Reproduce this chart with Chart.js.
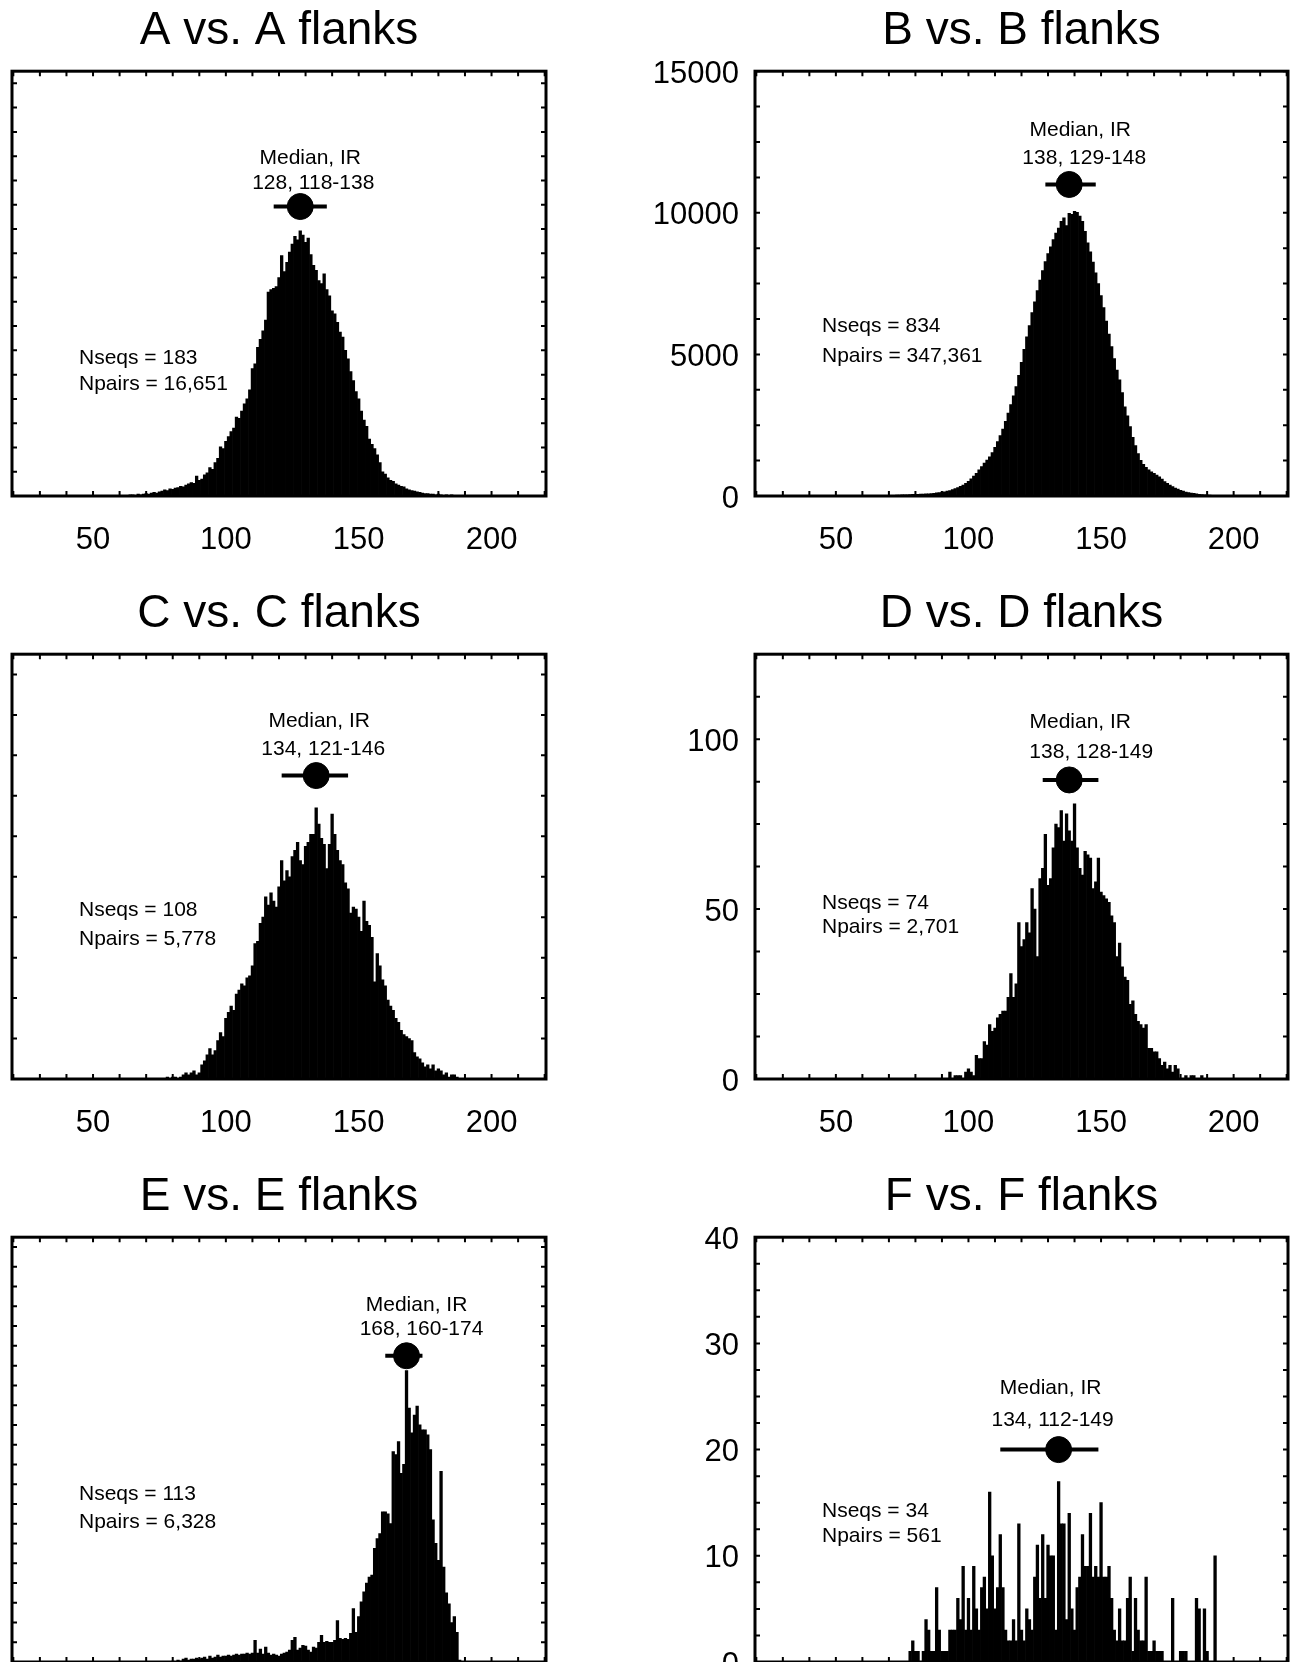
<!DOCTYPE html>
<html>
<head>
<meta charset="utf-8">
<title>Flank length distributions</title>
<script src="https://cdn.jsdelivr.net/npm/chart.js@4.4.1/dist/chart.umd.min.js"></script>
<style>
    html, body { margin: 0; padding: 0; background: #fff; overflow: hidden; }
    #page { position: relative; width: 1291px; height: 1662px; overflow: hidden; background: #fff; }
    #page canvas { position: absolute; }
</style>
</head>
<body>
<div id="page">
    <canvas id="chartA" width="560" height="556" style="left:0px;top:0px"></canvas>
    <canvas id="chartB" width="646" height="556" style="left:645px;top:0px"></canvas>
    <canvas id="chartC" width="560" height="556" style="left:0px;top:583px"></canvas>
    <canvas id="chartD" width="646" height="556" style="left:645px;top:583px"></canvas>
    <canvas id="chartE" width="560" height="556" style="left:0px;top:1166px"></canvas>
    <canvas id="chartF" width="646" height="556" style="left:645px;top:1166px"></canvas>
</div>
<script>
/* ================================
   DATA (counts per 1-unit bin)
   ================================ */

const xTickLabels = [50, 100, 150, 200];

// A vs. A flanks
const aStart = 60;
const aCounts = [
    1, 0, 1, 1, 2, 2, 1, 3, 2, 3,
    4, 3, 5, 6, 5, 7, 8, 10, 9, 12,
    11, 13, 14, 16, 15, 18, 20, 22, 21, 33,
    26, 28, 35, 38, 47, 44, 55, 62, 81, 78,
    90, 98, 106, 112, 130, 128, 140, 152, 160, 175,
    210, 218, 245, 258, 272, 290, 336, 340, 342, 345,
    360, 396, 370, 385, 402, 415, 428, 422, 437, 430,
    418, 425, 398, 380, 372, 355, 350, 366, 340, 330,
    305, 300, 286, 270, 262, 240, 226, 205, 190, 172,
    160, 140, 125, 115, 94, 85, 78, 68, 55, 40,
    36, 30, 26, 24, 20, 18, 16, 15, 12, 10,
    9, 8, 7, 6, 5, 4, 4, 3, 3, 2,
    3, 2, 1, 2, 1, 2, 1, 0, 1, 1,
    0, 1
];

// B vs. B flanks
const bStart = 60;
const bCounts = [
    5, 6, 8, 8, 10, 12, 13, 15, 18, 20,
    22, 25, 28, 30, 35, 38, 42, 45, 50, 55,
    58, 62, 66, 70, 75, 80, 88, 98, 110, 122,
    135, 150, 170, 195, 225, 260, 300, 345, 390, 450,
    520, 610, 700, 800, 920, 1040, 1160, 1270, 1380, 1530,
    1720, 1920, 2130, 2360, 2640, 2930, 3230, 3540, 3860, 4260,
    4720, 5180, 5620, 6020, 6480, 6860, 7250, 7620, 7960, 8280,
    8560, 8800, 9050, 9280, 9460, 9700, 9820, 9550, 9980, 9950,
    10050, 10020, 9880, 9700, 9350, 8940, 8620, 8260, 7880, 7500,
    7080, 6650, 6180, 5720, 5280, 4850, 4450, 4100, 3650, 3150,
    2830, 2450, 2070, 1780, 1500, 1260, 1120, 1010, 920, 850,
    800, 740, 680, 600, 510, 450, 390, 330, 280, 240,
    200, 170, 140, 120, 105, 95, 80, 60, 50, 40,
    35, 30, 25, 20, 15, 12, 10, 8, 5
];
const bYTicks = [0, 5000, 10000, 15000];

// C vs. C flanks
const cStart = 78;
const cCounts = [
    1, 0, 1, 1, 0, 1, 2, 3, 2, 3,
    4, 2, 3, 7, 9, 12, 15, 12, 14, 19,
    23, 21, 30, 33, 36, 34, 42, 44, 47, 46,
    50, 51, 56, 67, 68, 77, 80, 90, 86, 92,
    88, 85, 95, 108, 98, 103, 100, 110, 113, 117,
    108, 106, 115, 117, 121, 121, 134, 126, 119, 116,
    104, 116, 131, 121, 113, 108, 106, 97, 94, 82,
    85, 84, 80, 73, 88, 78, 76, 70, 48, 62,
    56, 49, 46, 39, 36, 34, 30, 28, 24, 22,
    21, 20, 19, 13, 11, 10, 8, 6, 7, 5,
    7, 4, 5, 4, 2, 3, 1, 2, 2, 1
];

// D vs. D flanks
const dStart = 93;
const dCounts = [
    2, 0, 1, 1, 1, 0, 2, 3, 2, 1,
    7, 6, 6, 11, 10, 16, 14, 15, 18, 19,
    20, 20, 24, 31, 24, 28, 46, 39, 41, 46,
    43, 56, 50, 36, 59, 62, 72, 57, 59, 68,
    75, 74, 79, 70, 78, 73, 70, 81, 68, 62,
    60, 67, 66, 65, 56, 58, 65, 55, 54, 53,
    52, 48, 46, 36, 40, 33, 30, 29, 22, 23,
    19, 17, 16, 15, 16, 9, 9, 8, 8, 6,
    4, 5, 3, 4, 2, 4, 3, 0, 0, 1,
    0, 1, 1, 0, 0, 1
];
const dYTicks = [0, 50, 100];

// E vs. E flanks
const eStart = 80;
const eCounts = [
    1, 0, 2, 1, 3, 4, 2, 3, 3, 4,
    3, 4, 5, 3, 6, 4, 5, 7, 5, 6,
    6, 7, 6, 7, 8, 7, 8, 8, 9, 8,
    9, 22, 9, 13, 8, 15, 9, 7, 8, 7,
    6, 8, 9, 10, 12, 22, 25, 12, 14, 17,
    16, 12, 10, 15, 14, 20, 27, 20, 21, 20,
    20, 22, 42, 24, 23, 24, 23, 29, 54, 30,
    46, 61, 71, 80, 86, 88, 115, 125, 130, 152,
    152, 150, 140, 213, 210, 223, 191, 200, 295, 257,
    232, 250, 259, 240, 235, 235, 230, 215, 144, 120,
    103, 193, 96, 70, 59, 40, 46, 30, 2
];

// F vs. F flanks
const fStart = 78;
const fCounts = [
    1, 2, 1, 1, 0, 1, 4, 3, 1, 1,
    7, 3, 1, 1, 1, 3, 3, 3, 6, 4,
    9, 3, 6, 3, 9, 5, 3, 7, 8, 5,
    16, 10, 5, 7, 12, 7, 3, 2, 2, 4,
    2, 13, 3, 2, 5, 4, 3, 8, 11, 6,
    12, 6, 11, 10, 10, 3, 17, 13, 13, 4,
    14, 5, 3, 7, 8, 12, 9, 9, 14, 8,
    9, 8, 15, 8, 8, 9, 6, 3, 2, 5,
    2, 2, 6, 8, 1, 6, 3, 2, 2, 8,
    1, 1, 2, 1, 1, 1, 0, 0, 0, 6,
    0, 0, 1, 1, 1, 0, 0, 0, 6, 5,
    0, 5, 1, 0, 0, 10
];
const fYTicks = [0, 10, 20, 30, 40];

/* ================================
   PANELS
   ================================ */

const FONT = '"Liberation Sans", Arial, Helvetica, sans-serif';

const panels = [
    { id: 'chartA', title: 'A vs. A flanks', start: aStart, counts: aCounts, yMax: 700, yStep: 40, yTicks: null,
      median: 128, q1: 118, q3: 138, markY: 477, nseqs: 183, npairs: 16651,
      medDx: 10, medDy: 50, irDx: 13, irDy: 25, nTop: 285, nGap: 26 },
    { id: 'chartB', title: 'B vs. B flanks', start: bStart, counts: bCounts, yMax: 15000, yStep: 1250, yTicks: bYTicks,
      median: 138, q1: 129, q3: 148, markY: 11000, nseqs: 834, npairs: 347361,
      medDx: 11, medDy: 56, irDx: 15, irDy: 28, nTop: 253, nGap: 30 },
    { id: 'chartC', title: 'C vs. C flanks', start: cStart, counts: cCounts, yMax: 210, yStep: 20, yTicks: null,
      median: 134, q1: 121, q3: 146, markY: 150, nseqs: 108, npairs: 5778,
      medDx: 3, medDy: 56, irDx: 7, irDy: 28, nTop: 254, nGap: 29 },
    { id: 'chartD', title: 'D vs. D flanks', start: dStart, counts: dCounts, yMax: 125, yStep: 12.5, yTicks: dYTicks,
      median: 138, q1: 128, q3: 149, markY: 88, nseqs: 74, npairs: 2701,
      medDx: 11, medDy: 60, irDx: 22, irDy: 30, nTop: 247, nGap: 24 },
    { id: 'chartE', title: 'E vs. E flanks', start: eStart, counts: eCounts, yMax: 430, yStep: 20, yTicks: null,
      median: 168, q1: 160, q3: 174, markY: 310, nseqs: 113, npairs: 6328,
      medDx: 10, medDy: 53, irDx: 15, irDy: 29, nTop: 255, nGap: 28 },
    { id: 'chartF', title: 'F vs. F flanks', start: fStart, counts: fCounts, yMax: 40, yStep: 2.5, yTicks: fYTicks,
      median: 134, q1: 112, q3: 149, markY: 20, nseqs: 34, npairs: 561,
      medDx: -8, medDy: 63, irDx: -6, irDy: 31, nTop: 272, nGap: 25 }
];

document.addEventListener('DOMContentLoaded', function() {
    panels.forEach(makePanel);
});

// values from..to by step (used for the small inward tick marks only)
function range(from, to, step) {
    const out = [];
    for (let v = from; v <= to + 1e-9; v += step) out.push(v);
    return out;
}

// Box frame, inward ticks and the text notes
function framePlugin(p) {
    return {
        id: 'frame_' + p.id,
        afterDraw(chart) {
            const ctx = chart.ctx;
            const a = chart.chartArea;
            const x = chart.scales.x;
            const y = chart.scales.y;
            ctx.save();
            ctx.strokeStyle = '#000';
            ctx.lineWidth = 2;
            ctx.beginPath();
            range(20, 220, 10).forEach(v => {
                const px = x.getPixelForValue(v);
                ctx.moveTo(px, a.top); ctx.lineTo(px, a.top + 5);
                ctx.moveTo(px, a.bottom); ctx.lineTo(px, a.bottom - 5);
            });
            range(0, p.yMax, p.yStep).forEach(v => {
                const py = y.getPixelForValue(v);
                ctx.moveTo(a.left, py); ctx.lineTo(a.left + 5, py);
                ctx.moveTo(a.right, py); ctx.lineTo(a.right - 5, py);
            });
            ctx.stroke();
            ctx.lineWidth = 3;
            ctx.strokeRect(a.left, a.top, a.right - a.left, a.bottom - a.top);

            // median / IR note
            const mx = x.getPixelForValue(p.median);
            const my = y.getPixelForValue(p.markY);
            ctx.fillStyle = '#000';
            ctx.font = '21px ' + FONT;
            ctx.textAlign = 'center';
            ctx.textBaseline = 'middle';
            ctx.fillText('Median, IR', mx + p.medDx, my - p.medDy + 2);
            ctx.fillText(p.median + ', ' + p.q1 + '-' + p.q3, mx + p.irDx, my - p.irDy + 2);

            // counts note
            ctx.textAlign = 'left';
            ctx.fillText('Nseqs = ' + p.nseqs, a.left + 67, a.top + p.nTop + 2);
            ctx.fillText('Npairs = ' + p.npairs.toLocaleString('en-US'), a.left + 67, a.top + p.nTop + p.nGap + 2);
            ctx.restore();
        }
    };
}

function makePanel(p) {
    const canvas = document.getElementById(p.id);
    const hasY = !!p.yTicks;

    new Chart(canvas, {
        type: 'bar',
        data: {
            datasets: [
                {
                    type: 'line',
                    data: [{ x: p.q1, y: p.markY }, { x: p.q3, y: p.markY }],
                    borderColor: '#000',
                    borderWidth: 4,
                    pointRadius: 0,
                    order: 0
                },
                {
                    type: 'scatter',
                    data: [{ x: p.median, y: p.markY }],
                    backgroundColor: '#000',
                    borderColor: '#000',
                    pointRadius: 13,
                    order: 0
                },
                {
                    type: 'bar',
                    data: p.counts.map((c, i) => ({ x: p.start + i, y: c })),
                    backgroundColor: '#000',
                    borderWidth: 0,
                    barPercentage: 1,
                    categoryPercentage: 1,
                    grouped: false,
                    order: 1
                }
            ]
        },
        options: {
            responsive: false,
            animation: false,
            events: [],
            layout: {
                autoPadding: false,
                padding: { left: hasY ? 0 : 12, right: hasY ? 3 : 14, top: 0, bottom: 0 }
            },
            plugins: {
                legend: { display: false },
                tooltip: { enabled: false },
                title: {
                    display: true,
                    fullSize: false,
                    text: p.title,
                    color: '#000',
                    font: { family: FONT, size: 46, weight: 'normal' },
                    padding: { top: 4, bottom: 12 }
                }
            },
            scales: {
                x: {
                    type: 'linear',
                    min: 19.5,
                    max: 220.5,
                    offset: false,
                    grid: { display: false, drawTicks: false },
                    border: { display: false },
                    ticks: {
                        color: '#000',
                        font: { family: FONT, size: 31 },
                        padding: 26,
                        maxRotation: 0,
                        autoSkip: false,
                        callback: v => String(v)
                    },
                    afterBuildTicks: s => { s.ticks = xTickLabels.map(v => ({ value: v })); },
                    afterFit: s => { s.height = 60; s.paddingLeft = 0; s.paddingRight = 0; }
                },
                y: {
                    type: 'linear',
                    min: 0,
                    max: p.yMax,
                    display: hasY,
                    grid: { display: false, drawTicks: false },
                    border: { display: false },
                    ticks: {
                        color: '#000',
                        font: { family: FONT, size: 31 },
                        padding: 16,
                        labelOffset: 3,
                        autoSkip: false,
                        callback: v => String(v)
                    },
                    afterBuildTicks: s => { if (hasY) s.ticks = p.yTicks.map(v => ({ value: v })); },
                    afterFit: s => { if (hasY) s.width = 110; }
                }
            }
        },
        plugins: [framePlugin(p)]
    });
}
</script>
</body>
</html>
